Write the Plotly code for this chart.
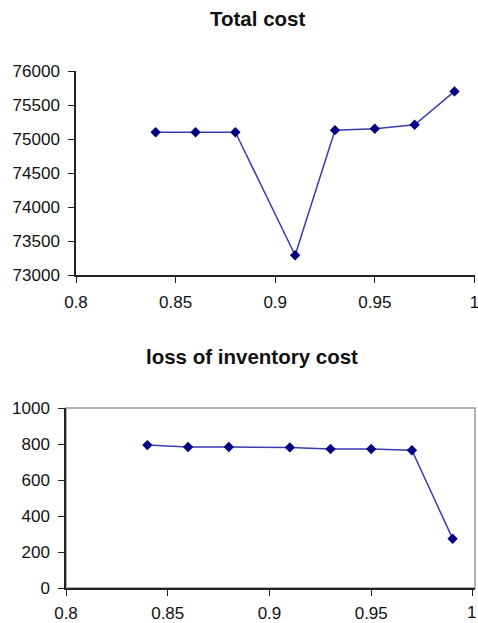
import plotly.graph_objects as go

x_vals = [0.84, 0.86, 0.88, 0.91, 0.93, 0.95, 0.97, 0.99]
total_cost = [75100, 75100, 75100, 73290, 75130, 75150, 75210, 75700]
loss_inventory_cost = [794, 783, 783, 781, 772, 772, 765, 274]
x_ticks = [0.8, 0.85, 0.9, 0.95, 1.0]
x_tick_labels = ["0.8", "0.85", "0.9", "0.95", "1"]

title_top = "Total cost"
title_bottom = "loss of inventory cost"

FONT = "Liberation Sans, Arial, sans-serif"
line_style = dict(color="#3b3bb0", width=1.5)
marker_style = dict(symbol="diamond", size=8, color="#000080")
tick_font = dict(family=FONT, size=17, color="#111")

W, H = 478, 623

fig = go.Figure()
fig.add_trace(go.Scatter(x=x_vals, y=total_cost, mode="lines+markers",
                         line=line_style, marker=marker_style, xaxis="x", yaxis="y"))
fig.add_trace(go.Scatter(x=x_vals, y=loss_inventory_cost, mode="lines+markers",
                         line=line_style, marker=marker_style, xaxis="x2", yaxis="y2"))

axis_common = dict(showgrid=False, zeroline=False, showline=True, linecolor="#222",
                   linewidth=1.5, ticks="outside", ticklen=6, tickcolor="#222",
                   tickfont=tick_font, automargin=False)
yaxis_common = dict(tickformat="d", ticklabelstandoff=5, **axis_common)

# bottom axis: the last label sits at the page edge, so it is drawn as an annotation
bottom_tick_labels = x_tick_labels[:-1] + [""]

fig.update_layout(
    width=W, height=H,
    margin=dict(l=0, r=0, t=0, b=0),
    paper_bgcolor="white", plot_bgcolor="white",
    showlegend=False,
    xaxis=dict(domain=[76/W, 475/W], range=[0.8, 1.0003], anchor="y",
               tickvals=x_ticks, ticktext=x_tick_labels, ticklabeloverflow="allow",
               ticklabelstandoff=5, **axis_common),
    yaxis=dict(domain=[1-275/H, 1-71/H], range=[73000, 76000], dtick=500,
               anchor="x", **yaxis_common),
    xaxis2=dict(domain=[66/W, 475/W], range=[0.8, 1.001], anchor="y2",
                tickvals=x_ticks, ticktext=bottom_tick_labels, ticklabeloverflow="allow",
                ticklabelstandoff=3, **axis_common),
    yaxis2=dict(domain=[1-588/H, 1-408/H], range=[0, 1000], dtick=200,
                anchor="x2", **yaxis_common),
    shapes=[dict(type="rect", xref="x2 domain", yref="y2 domain", x0=0, x1=1, y0=0, y1=1,
                 line=dict(color="#9a9a9a", width=1.5), layer="below")],
    annotations=[
        dict(text="<b>%s</b>" % title_top, xref="paper", yref="paper",
             x=257/W, y=1-19/H, showarrow=False, xanchor="center", yanchor="middle",
             font=dict(family=FONT, size=20.5, color="#111")),
        dict(text="<b>%s</b>" % title_bottom, xref="paper", yref="paper",
             x=252/W, y=1-356/H, showarrow=False, xanchor="center", yanchor="middle",
             font=dict(family=FONT, size=20.5, color="#111")),
        dict(text=x_tick_labels[-1], xref="paper", yref="paper", x=471/W,
             y=1-612/H, showarrow=False, xanchor="center", yanchor="middle",
             font=tick_font),
    ],
)

fig.write_html("out.html", config={"displayModeBar": False},
               post_script="document.body.style.margin='0';document.body.style.overflow='hidden';")
